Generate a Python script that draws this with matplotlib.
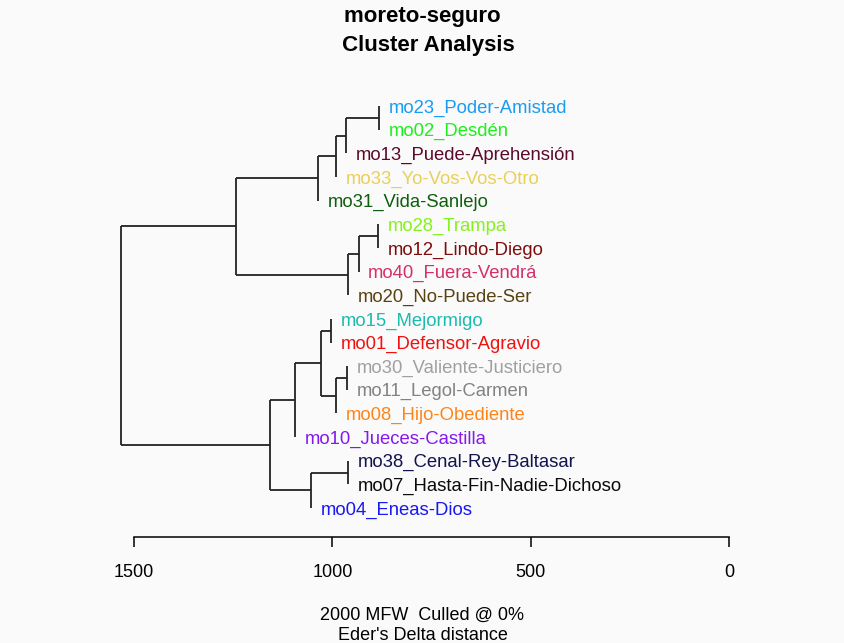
import numpy as np
import matplotlib.pyplot as plt

plt.rcParams['font.family'] = ['Liberation Sans', 'DejaVu Sans']

# leaves, top to bottom
labels = ["mo23_Poder-Amistad", "mo02_Desdén", "mo13_Puede-Aprehensión",
          "mo33_Yo-Vos-Vos-Otro", "mo31_Vida-Sanlejo", "mo28_Trampa",
          "mo12_Lindo-Diego", "mo40_Fuera-Vendrá", "mo20_No-Puede-Ser",
          "mo15_Mejormigo", "mo01_Defensor-Agravio", "mo30_Valiente-Justiciero",
          "mo11_Legol-Carmen", "mo08_Hijo-Obediente", "mo10_Jueces-Castilla",
          "mo38_Cenal-Rey-Baltasar", "mo07_Hasta-Fin-Nadie-Dichoso", "mo04_Eneas-Dios"]
colors = ["#1a9cf2", "#1cf01c", "#5a0a2a", "#e8d05a", "#0e5e0e", "#84f21c",
          "#7e0c0c", "#d4306a", "#5a4210", "#1abcb0", "#f01010", "#a0a0a0",
          "#828282", "#ff8418", "#8418f0", "#12124e", "#0a0a0a", "#1818f0"]

# merges: (child a, child b, height); ids 0-17 leaves, 18+ merges in order
merge_a = [0, 18, 19, 20, 5, 22, 23, 21, 9, 11, 27, 26, 29, 15, 31, 30, 25]
merge_b = [1, 2, 3, 4, 6, 7, 8, 24, 10, 12, 13, 28, 14, 16, 17, 32, 33]
heights = [883, 965, 991, 1037, 885, 934, 960, 1243, 1004, 964, 990, 1028,
           1095, 960, 1054, 1158, 1533]

n = len(labels)
ypos = {i: -i for i in range(n)}
hts = {}
parent_h = {}
for k, (a, b, h) in enumerate(zip(merge_a, merge_b, heights)):
    node = n + k
    ypos[node] = (ypos[a] + ypos[b]) / 2
    hts[node] = h
    parent_h[a] = h
    parent_h[b] = h

fig = plt.figure(figsize=(8.45, 6.43), dpi=100, facecolor='#fafafa')
ax = fig.add_axes([0, 1 - 537 / 643, 1, 447 / 643])
ax.set_facecolor('#fafafa')

lc = '#222222'
for k, (a, b, h) in enumerate(zip(merge_a, merge_b, heights)):
    ax.plot([h, h], [ypos[a], ypos[b]], color=lc, lw=1.3, solid_capstyle='butt')
    for c in (a, b):
        if c >= n:
            ax.plot([h, hts[c]], [ypos[c], ypos[c]], color=lc, lw=1.3,
                    solid_capstyle='butt')

for i in range(n):
    ax.annotate(labels[i], (parent_h[i], ypos[i]), xytext=(7, -1.5),
                textcoords='offset points', ha='left', va='center',
                fontsize=13.3, color=colors[i], annotation_clip=False)

px = 595 / 1500
ax.set_xlim(1500 + 134 / px, -(845 - 729) / px)
ax.set_ylim(-(537 - 106) / 23.65, (106 - 90) / 23.65)

for s in ['top', 'left', 'right']:
    ax.spines[s].set_visible(False)
ax.spines['bottom'].set_bounds(0, 1500)
ax.spines['bottom'].set_linewidth(1.1)
ax.set_yticks([])
ax.set_xticks([1500, 1000, 500, 0])
ax.tick_params(axis='x', length=7.5, width=1.1, pad=12, labelsize=13)
ax.set_xlabel("2000 MFW  Culled @ 0%\nEder's Delta distance", fontsize=13,
              labelpad=18.5, linespacing=1.25)

fig.text(0.503, 1 - 31 / 643, "moreto-seguro \n Cluster Analysis", ha='center',
         va='center', fontsize=16, fontweight='bold', linespacing=1.45)

fig.savefig('out.png', dpi=100, facecolor=fig.get_facecolor())
